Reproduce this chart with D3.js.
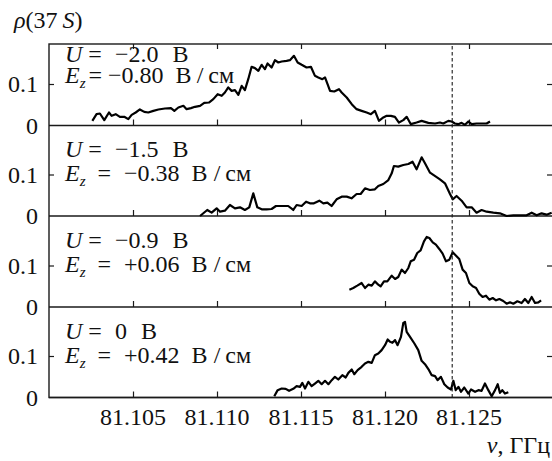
<!DOCTYPE html>
<html>
<head>
<meta charset="utf-8">
<script src="https://cdn.jsdelivr.net/npm/d3@7"></script>
<style>
  body { margin: 0; background: #fff; }
</style>
</head>
<body>
<svg id="chart" width="552" height="461"></svg>
<script>
// tick labels and panel captions
const freqTicks = [81.105, 81.110, 81.115, 81.120, 81.125];
const rhoTicks = [0, 0.1];
const panelU = ["−2.0", "−1.5", "−0.9", "0"];
const panelEz = ["−0.80", "−0.38", "+0.06", "+0.42"];
const markerFreq = 81.124;

// U = -2.0 V
const nu1 = [81.10258, 81.10283, 81.10303, 81.10329, 81.10357, 81.10373, 81.10397, 81.10422, 81.10448, 81.10472,
  81.10492, 81.10516, 81.10541, 81.10567, 81.10591, 81.10621, 81.10651, 81.1069, 81.10726, 81.10746,
  81.1077, 81.108, 81.10819, 81.10845, 81.10869, 81.10899, 81.10924, 81.10952, 81.10978, 81.11004,
  81.11028, 81.11047, 81.11067, 81.11087, 81.11107, 81.11127, 81.11147, 81.11166, 81.11186, 81.11206,
  81.11226, 81.11246, 81.11266, 81.11285, 81.11301, 81.11325, 81.11345, 81.11365, 81.11385, 81.11414,
  81.11434, 81.11458, 81.1148, 81.11504, 81.11533, 81.11559, 81.11583, 81.11603, 81.11627, 81.11643,
  81.11673, 81.11698, 81.11726, 81.11742, 81.11772, 81.11802, 81.11831, 81.11861, 81.11891, 81.11916,
  81.1194, 81.11964, 81.1199, 81.1201, 81.12035, 81.12059, 81.12083, 81.12109, 81.12129, 81.12154,
  81.12188, 81.12218, 81.12258, 81.12298, 81.12327, 81.12347, 81.12377, 81.12397, 81.12416, 81.12436,
  81.12456, 81.12476, 81.12496, 81.12516, 81.12545, 81.12575, 81.12605, 81.12625];
const rho1 = [0.0112, 0.0273, 0.0289, 0.0129, 0.0313, 0.0233, 0.0273, 0.0209, 0.0209, 0.0153,
  0.0257, 0.0313, 0.0386, 0.0329, 0.0313, 0.0353, 0.0386, 0.041, 0.0418, 0.0353,
  0.0434, 0.0474, 0.0394, 0.0418, 0.045, 0.0474, 0.0546, 0.0554, 0.0635, 0.0755,
  0.0715, 0.0795, 0.0916, 0.0835, 0.0851, 0.0739, 0.0956, 0.0851, 0.1116, 0.1414,
  0.1382, 0.1317, 0.1462, 0.1357, 0.1494, 0.1398, 0.1574, 0.1518, 0.1542, 0.1558,
  0.1574, 0.1679, 0.1518, 0.1462, 0.1398, 0.1414, 0.1197, 0.1157, 0.1116, 0.1157,
  0.0835, 0.0819, 0.0876, 0.0795, 0.0675, 0.0514, 0.0394, 0.0353, 0.0313, 0.0273,
  0.0353, 0.0112, 0.0193, 0.0233, 0.0233, 0.0209, 0.0072, 0.0129, 0.0209, 0.0032,
  0.0072, 0.0112, 0.0064, 0.0048, 0.0072, 0.0048, 0.0112, 0.0096, 0.0048, 0.0032,
  0.0064, 0.0016, 0.0096, 0.0032, 0.0048, 0.0048, 0.0048, 0.0096];

// U = -1.5 V
const nu2 = [81.10899, 81.10942, 81.10968, 81.10998, 81.11018, 81.11047, 81.11077, 81.11107, 81.11137, 81.11166,
  81.11192, 81.11216, 81.1124, 81.11266, 81.11295, 81.11325, 81.11351, 81.11385, 81.11424, 81.11454,
  81.11474, 81.11504, 81.1153, 81.11553, 81.11577, 81.11609, 81.11633, 81.11657, 81.11682, 81.11712,
  81.11742, 81.11772, 81.11801, 81.11831, 81.11855, 81.11881, 81.1191, 81.1194, 81.1196, 81.1199,
  81.1202, 81.1204, 81.12053, 81.12079, 81.12109, 81.12139, 81.12164, 81.12188, 81.12218, 81.12238,
  81.12268, 81.12303, 81.12327, 81.12357, 81.12387, 81.12403, 81.12426, 81.12456, 81.12486, 81.12516,
  81.12545, 81.12575, 81.12605, 81.12645, 81.12684, 81.12724, 81.12764, 81.12803, 81.12843, 81.12873,
  81.12903, 81.12932, 81.12962, 81.12992];
const rho2 = [0, 0.0145, 0.008, 0.0185, 0.0104, 0.0129, 0.0265, 0.0185, 0.0209, 0.0145,
  0.0209, 0.0546, 0.0209, 0.0161, 0.0161, 0.0169, 0.0241, 0.0241, 0.0241, 0.0145,
  0.0265, 0.0241, 0.0345, 0.0305, 0.0305, 0.0369, 0.0305, 0.0321, 0.0241, 0.0402,
  0.0466, 0.0466, 0.0426, 0.053, 0.053, 0.0667, 0.0627, 0.0643, 0.0723, 0.0771,
  0.0867, 0.1028, 0.1205, 0.1189, 0.1229, 0.1253, 0.1309, 0.1124, 0.1414, 0.1269,
  0.1044, 0.0948, 0.0884, 0.0787, 0.053, 0.0402, 0.0482, 0.0369, 0.0209, 0.0209,
  0.008, 0.0145, 0.0104, 0.008, 0.0064, 0, 0.0016, 0.0016, 0.0016, 0.008,
  0.0016, 0.0064, 0.0032, 0.008];

// U = -0.9 V
const nu3 = [81.11788, 81.11811, 81.11835, 81.11861, 81.11881, 81.11901, 81.11921, 81.1194, 81.1196, 81.11974,
  81.11994, 81.12014, 81.1204, 81.1206, 81.12079, 81.12099, 81.12119, 81.12139, 81.12153, 81.12173,
  81.12192, 81.12212, 81.12232, 81.12248, 81.12264, 81.12284, 81.12303, 81.12323, 81.12343, 81.12363,
  81.12383, 81.12403, 81.12423, 81.12442, 81.12462, 81.12482, 81.12502, 81.12522, 81.12542, 81.12561,
  81.12581, 81.12601, 81.12621, 81.12641, 81.12661, 81.12681, 81.12704, 81.12724, 81.12744, 81.12764,
  81.12788, 81.12813, 81.12833, 81.12853, 81.12873, 81.12893, 81.12913, 81.12929];
const rho3 = [0.0418, 0.0458, 0.0514, 0.0578, 0.0458, 0.0538, 0.0514, 0.0618, 0.0538, 0.0498,
  0.0618, 0.0618, 0.0755, 0.0675, 0.0723, 0.09, 0.0819, 0.094, 0.11, 0.1141,
  0.1301, 0.1365, 0.1582, 0.1687, 0.1663, 0.1558, 0.1502, 0.1398, 0.1285, 0.11,
  0.1141, 0.1317, 0.1237, 0.1157, 0.09, 0.0819, 0.0578, 0.0498, 0.0458, 0.0321,
  0.0241, 0.0273, 0.0177, 0.0217, 0.0161, 0.0193, 0.0145, 0.008, 0.0112, 0.008,
  0.0137, 0.0096, 0.0193, 0.0096, 0.0241, 0.0096, 0.0112, 0.0161];

// U = 0 V
const nu4 = [81.11341, 81.11361, 81.11385, 81.11409, 81.11429, 81.11454, 81.11474, 81.11494, 81.11508, 81.11524,
  81.11544, 81.11563, 81.11583, 81.11603, 81.11623, 81.11643, 81.11663, 81.11683, 81.11702, 81.11722,
  81.11746, 81.11766, 81.11782, 81.11802, 81.11817, 81.11837, 81.11861, 81.11881, 81.11901, 81.11921,
  81.1194, 81.1196, 81.1198, 81.12, 81.12016, 81.1203, 81.12044, 81.1206, 81.12075, 81.12095,
  81.12109, 81.12119, 81.12129, 81.12149, 81.12175, 81.12198, 81.12218, 81.12238, 81.12262, 81.12278,
  81.12298, 81.12313, 81.12333, 81.12353, 81.12373, 81.12393, 81.12407, 81.12421, 81.12437, 81.12452,
  81.12472, 81.12496, 81.12512, 81.12536, 81.12556, 81.12575, 81.12595, 81.12615, 81.12635, 81.12655,
  81.12671, 81.12684, 81.12698, 81.12714, 81.12734];
const rho4 = [0.0032, 0.0177, 0.0217, 0.0209, 0.0161, 0.0209, 0.0273, 0.0257, 0.0353, 0.0217,
  0.0378, 0.0273, 0.0337, 0.0402, 0.0321, 0.0402, 0.0321, 0.0418, 0.0498, 0.0434,
  0.0538, 0.0482, 0.0594, 0.0675, 0.0562, 0.0659, 0.0739, 0.0819, 0.0859, 0.0835,
  0.102, 0.106, 0.1141, 0.1261, 0.1398, 0.1341, 0.1317, 0.1382, 0.1261, 0.1462,
  0.1799, 0.1823, 0.1582, 0.1462, 0.1301, 0.1141, 0.0884, 0.0803, 0.0659, 0.0538,
  0.0514, 0.0418, 0.0498, 0.0321, 0.0241, 0.0193, 0.0402, 0.0177, 0.0257, 0.0137,
  0.0241, 0.0096, 0.0193, 0.0137, 0.0177, 0.0161, 0.0337, 0.0177, 0.0032, 0.0177,
  0.0321, 0.0112, 0.0177, 0.0096, 0.0129];

const series = [[nu1, rho1], [nu2, rho2], [nu3, rho3], [nu4, rho4]];

const svg = d3.select("#chart");
const left = 49, right = 553;
const panelTop = [44, 125.5, 216, 307];
const panelBottom = [125.5, 216, 307, 397.5];
const pxPer01 = 41.5;
const ink = "#1a1a1a";
const serif = '"Liberation Serif"';

// small helper so every label gets the same serif face
const label = (sel, size) => sel.style("font-family", serif).attr("font-size", size).attr("fill", "#111");

const x = d3.scaleLinear().domain([81.100, 81.130]).range([left, right]);

// frame
svg.append("rect")
  .attr("x", left).attr("y", panelTop[0])
  .attr("width", right - left).attr("height", panelBottom[3] - panelTop[0])
  .attr("fill", "none").attr("stroke", ink).attr("stroke-width", 1.4);

// top ticks of first panel
svg.append("g")
  .attr("transform", `translate(0,${panelTop[0]})`)
  .call(d3.axisTop(x).tickValues(freqTicks).tickSize(-5).tickSizeOuter(0).tickFormat(""))
  .call(g => g.select(".domain").remove())
  .selectAll("line").attr("stroke", ink).attr("stroke-width", 1.2);

series.forEach(([nu, rho], i) => {
  const y = d3.scaleLinear().domain([0, 0.1]).range([panelBottom[i], panelBottom[i] - pxPer01]);

  // baseline of the panel (value 0)
  svg.append("line")
    .attr("x1", left).attr("x2", right)
    .attr("y1", y(0)).attr("y2", y(0))
    .attr("stroke", ink).attr("stroke-width", 1.4);

  // bottom ticks pointing up into the panel
  svg.append("g")
    .attr("transform", `translate(0,${y(0)})`)
    .call(d3.axisBottom(x).tickValues(freqTicks).tickSize(-6).tickSizeOuter(0).tickFormat(""))
    .call(g => g.select(".domain").remove())
    .selectAll("line").attr("stroke", ink).attr("stroke-width", 1.2);

  // y ticks on the left (inside) and on the right
  svg.append("g")
    .attr("transform", `translate(${left},0)`)
    .call(d3.axisLeft(y).tickValues([0.1]).tickSize(-5).tickFormat(""))
    .call(g => g.select(".domain").remove())
    .selectAll("line").attr("stroke", ink).attr("stroke-width", 1.2);
  svg.append("g")
    .attr("transform", `translate(${right},0)`)
    .call(d3.axisRight(y).tickValues([0.1]).tickSize(-6).tickFormat(""))
    .call(g => g.select(".domain").remove())
    .selectAll("line").attr("stroke", ink).attr("stroke-width", 1.2);

  // y tick labels
  label(svg.selectAll(null).data(rhoTicks).enter().append("text"), 24)
    .attr("x", 38).attr("y", d => y(d) + 8)
    .attr("text-anchor", "end")
    .text(d => d === 0 ? "0" : "0.1");

  // the measured curve
  const pts = nu.map((v, k) => [v, rho[k]]);
  svg.append("path")
    .datum(pts)
    .attr("fill", "none").attr("stroke", "#000").attr("stroke-width", 2.2)
    .attr("stroke-linejoin", "round")
    .attr("d", d3.line().x(d => x(d[0])).y(d => y(d[1])));

  // captions (first panel is set tighter, as in the original)
  const tight = i === 0;
  const uy = panelTop[i] + (tight ? 18 : 31.5);
  const ey = panelTop[i] + (tight ? 38.5 : 55.5);
  const tU = label(svg.append("text"), 24).attr("x", 65).attr("y", uy);
  tU.append("tspan").attr("font-style", "italic").text("U");
  tU.append("tspan").attr("dx", 6).text("=");
  tU.append("tspan").attr("dx", 13).text(panelU[i]);
  tU.append("tspan").attr("dx", 14).text("В");

  const tE = label(svg.append("text"), 24).attr("x", 65).attr("y", ey);
  tE.append("tspan").attr("font-style", "italic").text("E");
  tE.append("tspan").attr("font-style", "italic").attr("font-size", 15).attr("dy", 5).text("z");
  tE.append("tspan").attr("dy", -5).attr("dx", tight ? 3 : 12).text("=");
  tE.append("tspan").attr("dx", tight ? 6 : 13).text(panelEz[i]);
  tE.append("tspan").attr("dx", tight ? 12 : 12).text("В");
  tE.append("tspan").attr("dx", tight ? 5 : 6).text("/");
  tE.append("tspan").attr("dx", 5).text("см");
});

// dashed marker line
svg.append("line")
  .attr("x1", x(markerFreq)).attr("x2", x(markerFreq))
  .attr("y1", panelTop[0] + 2).attr("y2", panelBottom[3] + 2)
  .attr("stroke", ink).attr("stroke-width", 1.1)
  .attr("stroke-dasharray", "3.5,2.5");

// x tick labels
label(svg.selectAll(".xlab").data(freqTicks).enter().append("text"), 24)
  .attr("class", "xlab")
  .attr("x", d => x(d)).attr("y", 425)
  .attr("text-anchor", "middle")
  .text(d => d.toFixed(3));

// axis titles
const xt = label(svg.append("text"), 24).attr("x", 550).attr("y", 453).attr("text-anchor", "end");
xt.append("tspan").attr("font-style", "italic").text("ν");
xt.append("tspan").text(", ГГц");

const yt = label(svg.append("text"), 24).attr("x", 14).attr("y", 28);
yt.append("tspan").attr("font-style", "italic").text("ρ");
yt.append("tspan").text("(37");
yt.append("tspan").attr("dx", 5).attr("font-style", "italic").text("S");
yt.append("tspan").text(")");
</script>
</body>
</html>
